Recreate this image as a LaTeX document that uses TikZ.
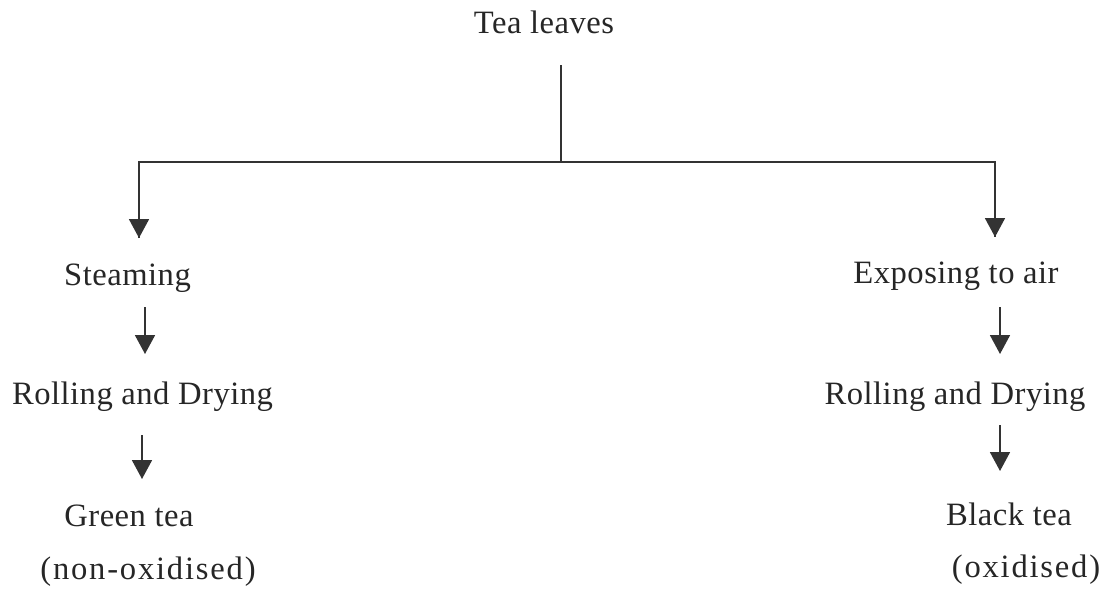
\documentclass[tikz,border=0pt]{standalone}
\usepackage{fontspec}
\setmainfont{Liberation Serif}
\usetikzlibrary{arrows.meta}
\tikzset{
  label text/.style={inner sep=0pt, anchor=base, text=black!85,
    font=\fontsize{32.6}{39}\selectfont\addfontfeatures{LetterSpace=1.5}},
  spaced/.style={font=\fontsize{32.6}{39}\selectfont\addfontfeatures{LetterSpace=5.5}},
  link/.style={draw=black!80, line width=1.8pt},
  flow/.style={link, -{Triangle[width=20pt,length=19pt]}}
}
\begin{document}
\begin{tikzpicture}[x=1pt,y=-1pt]
  \useasboundingbox (0,0) rectangle (1110,595);

  % source
  \node[label text] (tea) at (544,33) {Tea leaves};

  % green tea branch
  \node[label text] (steam) at (127.5,285) {Steaming};
  \node[label text] (rollL) at (142.5,404) {Rolling and Drying};
  \node[label text] (green) at (129,526) {Green tea};
  \node[label text, spaced] (nonox) at (148,579) {(non-oxidised)};

  % black tea branch
  \node[label text] (expose) at (956,283) {Exposing to air};
  \node[label text] (rollR) at (955,404) {Rolling and Drying};
  \node[label text] (black) at (1009,525) {Black tea};
  \node[label text, spaced] (ox) at (1026,577) {(oxidised)};

  % splitting connector
  \coordinate (stem) at (561,65);
  \coordinate (fork) at (561,162);
  \coordinate (forkL) at (139,162);
  \coordinate (forkR) at (995,162);
  \coordinate (tipL) at (139,238);
  \coordinate (tipR) at (995,237);
  \draw[link] (stem) -- (fork);
  \draw[link, line join=miter] (tipL) -- (forkL) -- (forkR) -- (tipR);
  \draw[flow] (forkL) -- (tipL);
  \draw[flow] (forkR) -- (tipR);

  % step arrows, left column
  \coordinate (aL1) at (145,307);
  \coordinate (bL1) at (145,354);
  \coordinate (aL2) at (142,435);
  \coordinate (bL2) at (142,479);
  \draw[flow] (aL1) -- (bL1);
  \draw[flow] (aL2) -- (bL2);

  % step arrows, right column
  \coordinate (aR1) at (1000,307);
  \coordinate (bR1) at (1000,354);
  \coordinate (aR2) at (1000,425);
  \coordinate (bR2) at (1000,471);
  \draw[flow] (aR1) -- (bR1);
  \draw[flow] (aR2) -- (bR2);
\end{tikzpicture}
\end{document}
